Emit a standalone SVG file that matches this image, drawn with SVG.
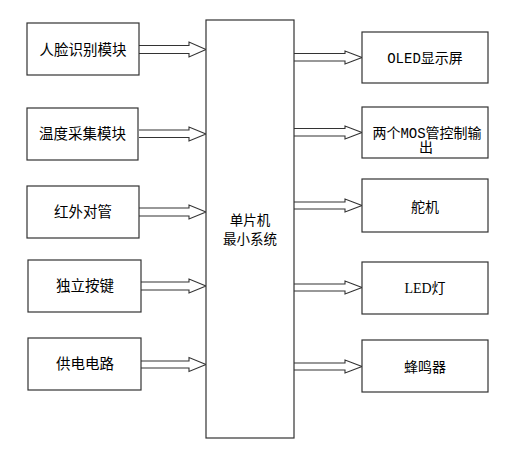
<svg xmlns="http://www.w3.org/2000/svg" width="516" height="452" viewBox="0 0 516 452">
<style>
.box{fill:#fff;stroke:#333;stroke-width:1.2}
.arr{fill:#fff;stroke:#333;stroke-width:1.1;stroke-linejoin:miter}
.ts{font-family:"Noto Sans CJK SC","Liberation Sans",sans-serif;font-size:14.5px;fill:#000;text-anchor:middle}
.tc{font-family:"Noto Sans CJK SC","Liberation Sans",sans-serif;font-size:13.5px;fill:#000;text-anchor:middle}
.tr{font-family:"Liberation Serif","Noto Sans CJK SC",serif;font-size:14px;fill:#000;text-anchor:middle}
.mono{font-family:"Liberation Mono","Noto Sans CJK SC",monospace}
</style>
<rect width="516" height="452" fill="#fff"/>
<g id="connectors">
<path class="arr" d="M139,45.5 H189 V42 L206,49.5 L189,57 V53.5 H139"/>
<path class="arr" d="M139,130 H189 V127 L206,134 L189,141 V137.5 H139"/>
<path class="arr" d="M139,208 H189 V205 L206,212 L189,219 V216 H139"/>
<path class="arr" d="M141,282 H189 V279 L206,286 L189,293 V290 H141"/>
<path class="arr" d="M141,361 H189 V357.5 L206,364.5 L189,371.5 V368 H141"/>
<path class="arr" d="M294,53.5 H345 V51 L362,57.5 L345,64 V61 H294"/>
<path class="arr" d="M294,128.5 H345 V126 L362,132.5 L345,139 V136 H294"/>
<path class="arr" d="M294,202 H345 V199 L362,205.5 L345,212 V209 H294"/>
<path class="arr" d="M294,284 H345 V281 L362,287.5 L345,294 V291 H294"/>
<path class="arr" d="M294,363 H345 V360 L362,366.5 L345,373 V370 H294"/>
</g>
<g id="mcu"><rect class="box" x="206" y="20" width="88" height="418"/>
<text class="tc" x="250" y="224.5">单片机</text><text class="tc" x="250" y="244">最小系统</text></g>
<g id="face"><rect class="box" x="27" y="23" width="112" height="52"/><text class="ts" x="83" y="54.5">人脸识别模块</text></g>
<g id="temp"><rect class="box" x="27" y="108" width="111" height="52"/><text class="ts" x="82.5" y="138.5">温度采集模块</text></g>
<g id="ir"><rect class="box" x="27" y="186" width="112" height="52"/><text class="ts" x="83" y="216.5">红外对管</text></g>
<g id="key"><rect class="box" x="28" y="260" width="113" height="52"/><text class="ts" x="85" y="290.5">独立按键</text></g>
<g id="power"><rect class="box" x="28" y="338" width="113" height="52"/><text class="ts" x="85" y="368.5">供电电路</text></g>
<g id="oled"><rect class="box" x="362" y="32" width="126" height="51"/><text class="tr" x="425" y="63"><tspan class="mono">OLED</tspan>显示屏</text></g>
<g id="mos"><rect class="box" x="362" y="107" width="126" height="51"/><text class="tr" x="427" y="137.5">两个<tspan class="mono">MOS</tspan>管控制输</text><text class="tr" x="426" y="152">出</text></g>
<g id="servo"><rect class="box" x="362" y="179" width="126" height="53"/><text class="tr" x="425" y="211.5">舵机</text></g>
<g id="led"><rect class="box" x="362" y="262" width="126" height="52"/><text class="tr" x="425" y="293">LED灯</text></g>
<g id="buzzer"><rect class="box" x="362" y="340" width="126" height="52"/><text class="tr" x="425" y="372">蜂鸣器</text></g>
</svg>
